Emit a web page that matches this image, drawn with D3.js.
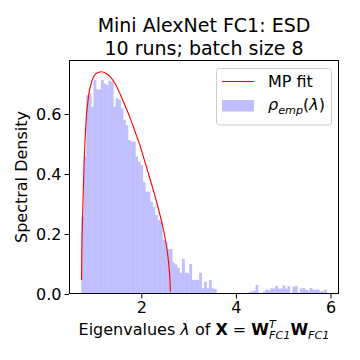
<!DOCTYPE html>
<html>
<head>
<meta charset="utf-8">
<title>Mini AlexNet FC1 ESD</title>
<script src="https://cdn.jsdelivr.net/npm/d3@7"></script>
<style>
    body {
        margin: 0;
        background: #ffffff;
    }
    svg text {
        font-family: "DejaVu Sans", sans-serif;
        fill: #000000;
        white-space: pre;
    }
</style>
</head>
<body>
<div id="chart"></div>
<script>
// histogram: 100 equal bins between binLo and binHi
var binLo = 0.73, binHi = 5.92;
var density = [
    0.258, 0.458, 0.663, 0.669, 0.624, 0.713, 0.682, 0.682, 0.713, 0.702,
    0.697, 0.711, 0.707, 0.624, 0.652, 0.647, 0.619, 0.580, 0.563, 0.513,
    0.508, 0.508, 0.458, 0.441, 0.430, 0.374, 0.341, 0.341, 0.308, 0.291,
    0.263, 0.247, 0.241, 0.180, 0.174, 0.149, 0.150, 0.105, 0.098, 0.088,
    0.071, 0.117, 0.071, 0.069, 0.100, 0.047, 0.047, 0.047, 0.071, 0.019,
    0.041, 0.019, 0.047, 0.019, 0.016, 0, 0, 0, 0, 0,
    0, 0, 0, 0, 0, 0, 0, 0, 0.006, 0.008,
    0.011, 0.030, 0, 0, 0.008, 0.016, 0.012, 0.019, 0.019, 0.027,
    0.018, 0.018, 0.029, 0.018, 0.026, 0, 0.024, 0.027, 0, 0.018,
    0.020, 0.015, 0.011, 0.020, 0.015, 0.015, 0.015, 0.008, 0.010, 0.015
];

// MP fit curve
var fitX = [0.735, 0.745, 0.758, 0.775, 0.794, 0.82, 0.85, 0.92, 1.026, 1.147,
            1.25, 1.344, 1.45, 1.556, 1.66, 1.76, 1.87, 1.979, 2.08, 2.19,
            2.30, 2.40, 2.46, 2.51, 2.55, 2.578, 2.60, 2.614];
var fitY = [0.047, 0.18, 0.258, 0.36, 0.458, 0.545, 0.613, 0.691, 0.733, 0.741,
            0.736, 0.724, 0.70, 0.665, 0.626, 0.588, 0.54, 0.491, 0.438, 0.38,
            0.32, 0.26, 0.22, 0.18, 0.14, 0.102, 0.06, 0.008];

var xTicks = [2, 4, 6];
var yTicks = [0, 0.2, 0.4, 0.6];

var margin = {top: 60, right: 21, bottom: 66, left: 69};
var width = 360 - margin.left - margin.right,
    height = 360 - margin.top - margin.bottom;

var svg = d3.select("#chart").append("svg")
    .attr("width", 360)
    .attr("height", 360);

svg.append("rect")
    .attr("width", 360)
    .attr("height", 360)
    .attr("fill", "#ffffff");

var g = svg.append("g")
    .attr("transform", "translate(" + margin.left + "," + margin.top + ")");

// scales
var x = d3.scaleLinear().domain([0.47, 6.18]).range([0, width]);
var y = d3.scaleLinear().domain([0, 0.78]).range([height, 0]);

var binW = (binHi - binLo) / density.length;

// histogram bars
g.selectAll(".bar")
    .data(density)
    .enter().append("rect")
    .attr("class", "bar")
    .attr("x", function(d, i) { return x(binLo + i * binW); })
    .attr("width", function(d, i) { return x(binLo + (i + 1) * binW) - x(binLo + i * binW) + 0.4; })
    .attr("y", function(d) { return y(d); })
    .attr("height", function(d) { return height - y(d); })
    .attr("fill", "#bfbfff");

// MP fit line
var fitPts = fitX.map(function(v, i) { return [v, fitY[i]]; });
var line = d3.line()
    .curve(d3.curveCatmullRom.alpha(0.5))
    .x(function(d) { return x(d[0]); })
    .y(function(d) { return y(d[1]); });

g.append("path")
    .datum(fitPts)
    .attr("d", line)
    .attr("fill", "none")
    .attr("stroke", "#ff0000")
    .attr("stroke-width", 1.1);

// x axis
var xAxis = g.append("g")
    .attr("transform", "translate(0," + height + ")")
    .call(d3.axisBottom(x).tickValues(xTicks).tickFormat(d3.format("d"))
        .tickSize(4.5).tickPadding(3.5).tickSizeOuter(0));

// y axis
var yAxis = g.append("g")
    .call(d3.axisLeft(y).tickValues(yTicks).tickFormat(d3.format(".1f"))
        .tickSize(4.5).tickPadding(3).tickSizeOuter(0));

[xAxis, yAxis].forEach(function(a) {
    a.select(".domain").remove();
    a.attr("font-family", null).attr("font-size", null);
    a.selectAll("line").attr("stroke", "#000").attr("stroke-width", 1);
    a.selectAll("text").style("font-size", "16px");
});

// frame
g.append("rect")
    .attr("x", 0.5)
    .attr("y", 0.5)
    .attr("width", width - 1)
    .attr("height", height - 1)
    .attr("fill", "none")
    .attr("stroke", "#000")
    .attr("stroke-width", 1);

// title
svg.append("text")
    .attr("x", margin.left + width / 2)
    .attr("y", 31.5)
    .attr("text-anchor", "middle")
    .style("font-size", "19px")
    .text("Mini AlexNet FC1: ESD");
svg.append("text")
    .attr("x", margin.left + width / 2)
    .attr("y", 54.5)
    .attr("text-anchor", "middle")
    .style("font-size", "19px")
    .text("10 runs; batch size 8");

// y label
svg.append("text")
    .attr("transform", "translate(27," + (margin.top + height / 2) + ") rotate(-90)")
    .attr("text-anchor", "middle")
    .style("font-size", "16px")
    .text("Spectral Density");

// x label
var xl = svg.append("text")
    .attr("x", margin.left + width / 2)
    .attr("y", 335)
    .attr("text-anchor", "middle")
    .style("font-size", "16px");
xl.append("tspan").text("Eigenvalues ");
xl.append("tspan").style("font-style", "italic").text("λ");
xl.append("tspan").text(" of ");
xl.append("tspan").style("font-weight", "bold").text("X");
xl.append("tspan").text(" = ");
xl.append("tspan").style("font-weight", "bold").text("W");
xl.append("tspan").attr("dy", -7).style("font-style", "italic").style("font-size", "11.2px").text("T");
xl.append("tspan").attr("dx", -6.8).attr("dy", 11).style("font-style", "italic").style("font-size", "11.2px").text("FC1");
xl.append("tspan").attr("dy", -4).style("font-weight", "bold").text("W");
xl.append("tspan").attr("dy", 4).style("font-style", "italic").style("font-size", "11.2px").text("FC1");

// legend
var lg = svg.append("g");
lg.append("rect")
    .attr("x", 216.5)
    .attr("y", 68.5)
    .attr("width", 115)
    .attr("height", 56.5)
    .attr("rx", 3)
    .attr("fill", "#ffffff")
    .attr("fill-opacity", 0.8)
    .attr("stroke", "#cccccc")
    .attr("stroke-width", 1);
lg.append("line")
    .attr("x1", 222).attr("x2", 254)
    .attr("y1", 81.5).attr("y2", 81.5)
    .attr("stroke", "#ff0000")
    .attr("stroke-width", 1.1);
lg.append("text")
    .attr("x", 268)
    .attr("y", 87)
    .style("font-size", "16px")
    .text("MP fit");
lg.append("rect")
    .attr("x", 222).attr("y", 100)
    .attr("width", 32).attr("height", 11.5)
    .attr("fill", "#bfbfff");
var lt = lg.append("text")
    .attr("x", 268)
    .attr("y", 110)
    .style("font-size", "16px");
lt.append("tspan").style("font-style", "italic").text("ρ");
lt.append("tspan").attr("dy", 3.5).style("font-style", "italic").style("font-size", "11.2px").text("emp");
lt.append("tspan").attr("dy", -3.5).text("(");
lt.append("tspan").style("font-style", "italic").text("λ");
lt.append("tspan").text(")");
</script>
</body>
</html>
